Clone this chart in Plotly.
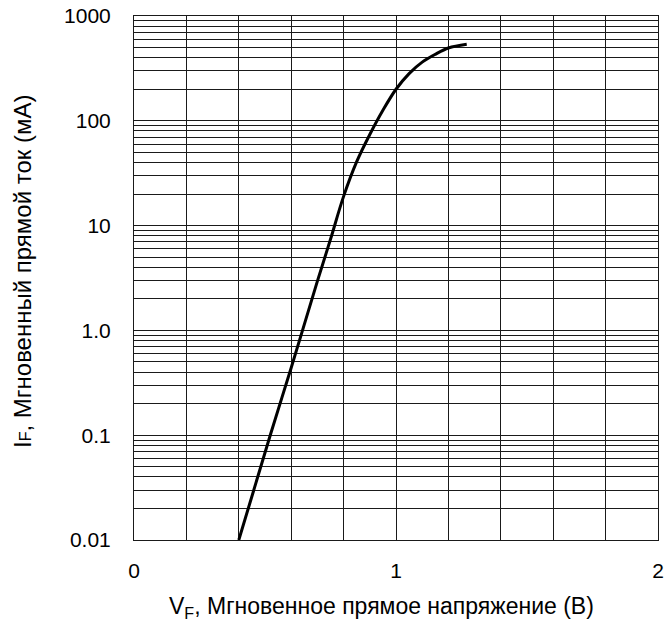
import plotly.graph_objects as go

# Forward voltage (V) and instantaneous forward current (mA)
vf = [0.40, 0.52, 0.60, 0.70, 0.75, 0.80, 0.85, 0.90, 0.95, 1.00, 1.05, 1.10, 1.15, 1.20, 1.27]
i_f = [0.01, 0.1, 0.44, 2.95, 7.4, 19, 40.7, 74, 126, 200, 282, 363, 431, 495, 537]

x_tickvals = [0, 1, 2]
x_ticktext = ["0", "1", "2"]
y_tickvals = [0.01, 0.1, 1, 10, 100, 1000]
y_ticktext = ["0.01", "0.1", "1.0", "10", "100", "1000"]

x_title = "V<sub>F</sub>, Мгновенное прямое напряжение (В)"
y_title = "I<span style='font-size:16px'>F</span>, Мгновенный прямой ток (мА)"

FONT = "Liberation Sans, Arial, sans-serif"
GRID = "#1a1a1a"

fig = go.Figure()
fig.add_trace(go.Scatter(
    x=vf, y=i_f, mode="lines",
    line=dict(color="black", width=3, shape="spline", smoothing=1.0),
    showlegend=False, hoverinfo="x+y",
))

fig.update_layout(
    width=665, height=635,
    margin=dict(l=134, r=7, t=16, b=95),
    paper_bgcolor="white", plot_bgcolor="white",
    font=dict(family=FONT, color="black"),
)

fig.update_xaxes(
    range=[0, 2], automargin=False,
    tickvals=x_tickvals, ticktext=x_ticktext, ticklabeloverflow="allow",
    tickfont=dict(size=21), ticks="", ticklabelstandoff=12,
    showgrid=True, gridcolor=GRID, gridwidth=1,
    showline=True, linecolor=GRID, linewidth=1, mirror=True,
    zeroline=False,
    minor=dict(dtick=0.2, tick0=0, showgrid=True, gridcolor=GRID, gridwidth=1),
)

fig.update_yaxes(
    type="log", range=[-2, 3], automargin=False,
    tickvals=y_tickvals, ticktext=y_ticktext, ticklabeloverflow="allow",
    tickfont=dict(size=21), ticks="", ticklabelstandoff=18,
    showgrid=True, gridcolor=GRID, gridwidth=1,
    showline=True, linecolor=GRID, linewidth=1, mirror=True,
    zeroline=False,
    minor=dict(dtick="D1", showgrid=True, gridcolor=GRID, gridwidth=1, ticks=""),
)

fig.add_annotation(
    text=x_title, xref="paper", yref="paper",
    x=(381 - 134) / 524, y=(540 - 607) / 524,
    xanchor="center", yanchor="middle", showarrow=False,
    font=dict(size=23, family=FONT, color="black"),
)
fig.add_annotation(
    text=y_title, xref="paper", yref="paper",
    x=(22 - 134) / 524, y=(540 - 271) / 524, textangle=-90,
    xanchor="center", yanchor="middle", showarrow=False,
    font=dict(size=24, family=FONT, color="black"),
)

# remove the default page margin so the figure fills the window exactly
fig.write_html("out.html",
               config={"displayModeBar": False},
               post_script="document.body.style.margin='0';document.body.style.overflow='hidden';")
